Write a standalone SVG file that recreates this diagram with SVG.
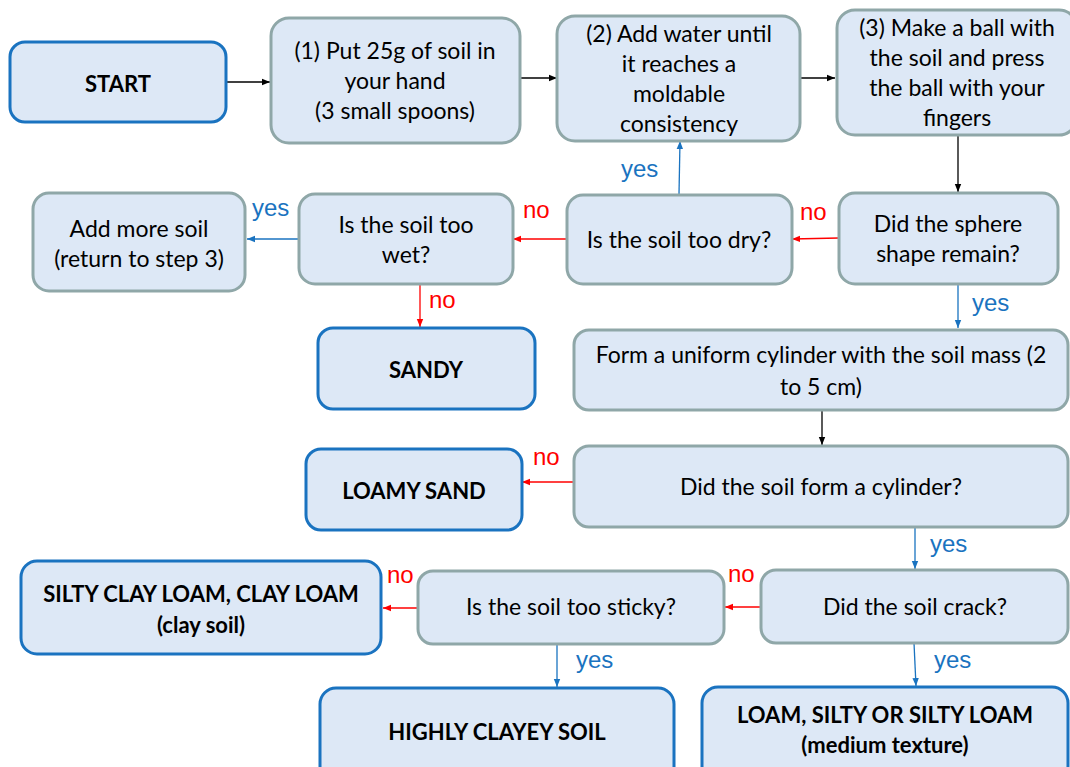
<svg xmlns="http://www.w3.org/2000/svg" width="1070" height="767" viewBox="0 0 1070 767">
<defs>
<style>
.n rect{fill:#dde8f6;stroke-width:3}
.g rect{stroke:#8fa7a8}
.b rect{stroke:#1a73c0}
.n text{font-family:Lato,"Liberation Sans",sans-serif;font-size:23px;fill:#000;text-anchor:middle}
.b text{font-weight:bold;font-size:22px}
.c line{stroke-width:1.3;fill:none}
.k{stroke:#000}
.u{stroke:#1a73c0}
.r{stroke:#ff0000}
.lab{font-family:"Liberation Sans",Arial,sans-serif;font-size:24px}
.ly{fill:#1a73c0}
.ln{fill:#ff0000}
</style>
<marker id="ak" viewBox="0 0 8 8" refX="8" refY="4" markerWidth="8" markerHeight="8" markerUnits="userSpaceOnUse" orient="auto"><path d="M0,0.8L8,4L0,7.2z" fill="#000"/></marker>
<marker id="au" viewBox="0 0 8 8" refX="8" refY="4" markerWidth="8" markerHeight="8" markerUnits="userSpaceOnUse" orient="auto"><path d="M0,0.8L8,4L0,7.2z" fill="#1a73c0"/></marker>
<marker id="ar" viewBox="0 0 8 8" refX="8" refY="4" markerWidth="8" markerHeight="8" markerUnits="userSpaceOnUse" orient="auto"><path d="M0,0.8L8,4L0,7.2z" fill="#ff0000"/></marker>
</defs>
<rect width="1070" height="767" fill="#fff"/>
<g id="connectors" class="c">
<line class="k" x1="226" y1="82" x2="270" y2="82" marker-end="url(#ak)"/>
<line class="k" x1="520" y1="78" x2="557" y2="78" marker-end="url(#ak)"/>
<line class="k" x1="800" y1="78" x2="835" y2="78" marker-end="url(#ak)"/>
<line class="k" x1="958" y1="135" x2="958" y2="192" marker-end="url(#ak)"/>
<line class="r" x1="839" y1="238" x2="792" y2="239" marker-end="url(#ar)"/>
<line class="u" x1="679" y1="194" x2="680" y2="141" marker-end="url(#au)"/>
<line class="r" x1="567" y1="239" x2="513" y2="239" marker-end="url(#ar)"/>
<line class="u" x1="299" y1="239" x2="247" y2="239" marker-end="url(#au)"/>
<line class="r" x1="420" y1="284" x2="420" y2="327" marker-end="url(#ar)"/>
<line class="u" x1="958" y1="284" x2="958" y2="328" marker-end="url(#au)"/>
<line class="k" x1="822" y1="410" x2="822" y2="445" marker-end="url(#ak)"/>
<line class="r" x1="574" y1="482" x2="522" y2="482" marker-end="url(#ar)"/>
<line class="u" x1="915" y1="527" x2="915" y2="569" marker-end="url(#au)"/>
<line class="r" x1="761" y1="607" x2="725" y2="607" marker-end="url(#ar)"/>
<line class="r" x1="418" y1="608" x2="383" y2="608" marker-end="url(#ar)"/>
<line class="u" x1="557" y1="644" x2="557" y2="687" marker-end="url(#au)"/>
<line class="u" x1="914" y1="643" x2="916" y2="686" marker-end="url(#au)"/>
</g>
<g id="labels">
<text class="lab ln" x="800" y="220">no</text>
<text class="lab ly" x="621" y="177">yes</text>
<text class="lab ln" x="523" y="218">no</text>
<text class="lab ly" x="252" y="216">yes</text>
<text class="lab ln" x="429" y="308">no</text>
<text class="lab ly" x="972" y="311">yes</text>
<text class="lab ln" x="533" y="465">no</text>
<text class="lab ly" x="930" y="552">yes</text>
<text class="lab ln" x="728" y="582">no</text>
<text class="lab ln" x="387" y="583">no</text>
<text class="lab ly" x="576" y="668">yes</text>
<text class="lab ly" x="934" y="668">yes</text>
</g>
<g id="start" class="n b"><rect x="10" y="42" width="216" height="80" rx="15"/><text x="118" y="92">START</text></g>
<g id="step1" class="n g"><rect x="271" y="18" width="249" height="125" rx="18"/><text x="395" y="59">(1) Put 25g of soil in</text><text x="395" y="89">your hand</text><text x="395" y="119">(3 small spoons)</text></g>
<g id="step2" class="n g"><rect x="557" y="16" width="243" height="125" rx="18"/><text x="679" y="42">(2) Add water until</text><text x="679" y="72">it reaches a</text><text x="679" y="102">moldable</text><text x="679" y="132">consistency</text></g>
<g id="step3" class="n g"><rect x="837" y="10" width="240" height="125" rx="18"/><text x="957" y="36">(3) Make a ball with</text><text x="957" y="66">the soil and press</text><text x="957" y="96">the ball with your</text><text x="957" y="126">fingers</text></g>
<g id="sphere" class="n g"><rect x="839" y="193" width="219" height="91" rx="16"/><text x="948" y="232">Did the sphere</text><text x="948" y="262">shape remain?</text></g>
<g id="dry" class="n g"><rect x="567" y="195" width="225" height="89" rx="16"/><text x="679" y="248">Is the soil too dry?</text></g>
<g id="wet" class="n g"><rect x="299" y="194" width="214" height="90" rx="16"/><text x="406" y="233">Is the soil too</text><text x="406" y="263">wet?</text></g>
<g id="addsoil" class="n g"><rect x="33" y="193" width="212" height="98" rx="16"/><text x="139" y="237">Add more soil</text><text x="139" y="267">(return to step 3)</text></g>
<g id="sandy" class="n b"><rect x="318" y="328" width="217" height="81" rx="15"/><text x="426" y="378">SANDY</text></g>
<g id="cylinder" class="n g"><rect x="574" y="330" width="494" height="80" rx="15"/><text x="821" y="363">Form a uniform cylinder with the soil mass (2</text><text x="821" y="395">to 5 cm)</text></g>
<g id="formcyl" class="n g"><rect x="574" y="446" width="494" height="81" rx="15"/><text x="821" y="495">Did the soil form a cylinder?</text></g>
<g id="loamysand" class="n b"><rect x="306" y="449" width="216" height="81" rx="15"/><text x="414" y="499">LOAMY SAND</text></g>
<g id="crack" class="n g"><rect x="761" y="570" width="307" height="73" rx="15"/><text x="915" y="615">Did the soil crack?</text></g>
<g id="sticky" class="n g"><rect x="418" y="571" width="306" height="73" rx="15"/><text x="571" y="615">Is the soil too sticky?</text></g>
<g id="silty" class="n b"><rect x="21" y="561" width="360" height="93" rx="16"/><text x="201" y="602">SILTY CLAY LOAM, CLAY LOAM</text><text x="201" y="633">(clay soil)</text></g>
<g id="highly" class="n b"><rect x="320" y="688" width="354" height="95" rx="16"/><text x="497" y="740">HIGHLY CLAYEY SOIL</text></g>
<g id="loam" class="n b"><rect x="702" y="687" width="366" height="95" rx="16"/><text x="885" y="723">LOAM, SILTY OR SILTY LOAM</text><text x="885" y="753">(medium texture)</text></g>
</svg>
